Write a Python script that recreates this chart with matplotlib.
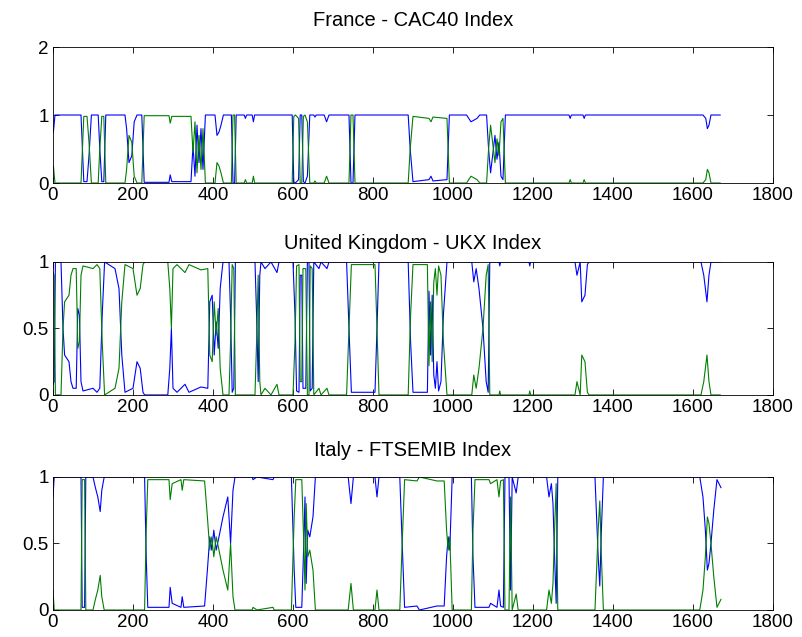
import numpy as np
import matplotlib.pyplot as plt

# regime probabilities (blue = state 1, green = state 2 = 1 - blue)
titles = ['France - CAC40 Index', 'United Kingdom - UKX Index', 'Italy - FTSEMIB Index']

fr_x = [1, 5, 70, 77, 85, 90, 96, 113, 117, 122, 127, 132, 180, 184, 190, 197, 203, 210, 222, 228,
        290, 293, 297, 345, 350, 355, 360, 365, 370, 375, 381, 405, 410, 415, 420, 426, 446, 450,
        454, 458, 478, 481, 484, 498, 501, 504, 598, 602, 606, 614, 618, 622, 626, 630, 636, 642,
        652, 655, 658, 678, 684, 690, 740, 745, 750, 755, 888, 893, 900, 940, 945, 950, 985, 991,
        1034, 1045, 1060, 1067, 1084, 1089, 1094, 1100, 1105, 1110, 1115, 1120, 1125, 1131, 1290,
        1293, 1296, 1325, 1328, 1331, 1625, 1632, 1636, 1640, 1645, 1668]
fr_blue = [0.75, 1, 1, 0.02, 0.02, 0.4, 1, 1, 0.5, 0.02, 0.02, 1, 1, 0.8, 0.3, 0.4, 0.9, 1, 1, 0.01,
           0.01, 0.12, 0.02, 0.02, 0.55, 0.1, 0.85, 0.3, 0.8, 0.2, 1, 1, 0.7, 0.75, 0.85, 1, 1, 0.0,
           0.0, 1, 1, 0.95, 1, 1, 0.9, 1, 1, 0.02, 0.0, 0.05, 1, 1, 0.02, 0.0, 0.1, 1,
           1, 0.97, 1, 1, 0.9, 1, 1, 0.0, 0.0, 1, 1, 0.5, 0.02, 0.05, 0.1, 0.03, 0.05, 1,
           1, 0.9, 0.95, 1, 1, 0.5, 0.15, 0.45, 0.7, 0.35, 0.6, 0.1, 0.05, 1, 1,
           0.95, 1, 1, 0.95, 1, 1, 0.95, 0.8, 0.85, 1, 1]

uk_x = [0, 3, 6, 20, 25, 29, 40, 45, 50, 58, 62, 66, 70, 75, 100, 110, 117, 123, 129, 155, 165,
        172, 180, 200, 210, 218, 225, 229, 287, 292, 296, 300, 310, 330, 340, 370, 387, 392, 398,
        403, 408, 413, 418, 425, 440, 444, 448, 452, 456, 505, 509, 513, 517, 520, 530, 545, 560,
        565, 600, 605, 609, 615, 618, 622, 625, 632, 636, 640, 643, 648, 652, 665, 670, 685, 690,
        734, 740, 746, 805, 810, 815, 888, 894, 900, 936, 940, 944, 948, 952, 956, 960, 964, 970,
        976, 985, 1047, 1052, 1058, 1065, 1075, 1083, 1088, 1092, 1115, 1117, 1119, 1190, 1192,
        1194, 1305, 1310, 1314, 1318, 1322, 1330, 1336, 1340, 1620, 1627, 1635, 1640, 1645, 1668]
uk_blue = [0.08, 0.1, 1, 1, 0.5, 0.3, 0.25, 0.1, 0.05, 0.05, 0.65, 0.6, 0.1, 0.03, 0.05, 0.02, 0.05,
           0.6, 1, 0.95, 0.8, 0.3, 0.02, 0.05, 0.25, 0.2, 0.02, 0.0, 0.0, 0.2, 0.5, 0.05, 0.02, 0.08,
           0.02, 0.06, 0.05, 0.7, 0.75, 0.3, 0.55, 0.35, 0.8, 1, 1, 0.6, 0.02, 0.05, 1, 1, 0.6, 0.1,
           0.9, 1, 0.95, 1, 0.92, 1, 1, 0.6, 0.03, 0.02, 0.9, 0.9, 0.05, 0.05, 1, 1, 0.03, 0.05, 1,
           0.95, 1, 0.95, 1, 1, 0.5, 0.02, 0.02, 0.5, 1, 1, 0.4, 0.02, 0.02, 0.78, 0.3, 0.75, 0.15,
           0.05, 0.25, 0.03, 0.1, 0.6, 1, 1, 0.85, 0.95, 0.8, 0.5, 0.1, 0.02, 1, 1, 0.97, 1, 1, 0.97,
           1, 1, 0.9, 0.95, 1, 0.7, 0.75, 0.98, 1, 1, 0.9, 0.7, 0.9, 1, 1]

it_x = [0, 3, 70, 73, 79, 82, 100, 106, 112, 118, 122, 128, 229, 233, 237, 290, 293, 298, 320, 323,
        327, 379, 386, 392, 397, 402, 408, 415, 425, 437, 444, 450, 455, 498, 500, 510, 550, 553,
        596, 603, 607, 622, 627, 630, 633, 637, 642, 650, 656, 738, 745, 751, 805, 810, 815, 867,
        873, 879, 910, 916, 960, 978, 984, 988, 992, 998, 1046, 1050, 1055, 1090, 1094, 1110, 1115,
        1119, 1126, 1130, 1140, 1144, 1148, 1158, 1163, 1234, 1240, 1246, 1250, 1254, 1258, 1262,
        1355, 1363, 1367, 1371, 1376, 1617, 1625, 1631, 1636, 1640, 1645, 1652, 1660, 1665, 1670]
it_blue = [0.85, 1, 1, 0.02, 0.02, 1, 1, 0.92, 0.85, 0.74, 0.9, 1, 1, 0.4, 0.02, 0.02, 0.17, 0.05,
           0.02, 0.1, 0.02, 0.03, 0.3, 0.55, 0.45, 0.6, 0.45, 0.55, 0.7, 0.85, 0.5, 0.9, 1, 1, 0.98,
           1, 0.98, 1, 1, 0.3, 0.02, 0.02, 0.5, 0.85, 0.2, 0.6, 0.55, 0.7, 1, 1, 0.8, 1, 1, 0.85, 1,
           1, 0.5, 0.02, 0.03, 0.0, 0.03, 0.03, 0.4, 0.55, 0.45, 1, 1, 0.4, 0.02, 0.02, 0.05, 0.02,
           0.15, 0.03, 0.02, 1, 1, 0.15, 1, 0.88, 1, 1, 0.85, 0.95, 0.8, 0.4, 0.05, 1,
           1, 0.4, 0.18, 0.6, 1, 1, 0.85, 0.6, 0.3, 0.35, 0.5, 0.75, 0.98, 0.95, 0.92]

series = [(fr_x, fr_blue), (uk_x, uk_blue), (it_x, it_blue)]
ylims = [(0, 2), (0, 1), (0, 1)]
yticks = [[0, 1, 2], [0, 0.5, 1], [0, 0.5, 1]]
yticklabels = [['0', '1', '2'], ['0', '0.5', '1'], ['0', '0.5', '1']]
xticks = list(range(0, 2000, 200))
title_pads = [15, 9, 15]

plt.rcParams['font.family'] = ['Liberation Sans', 'DejaVu Sans']
fig = plt.figure(figsize=(8.03, 6.37), dpi=100)
boxes = [[0.066, 0.7127, 0.8966, 0.2135],
         [0.066, 0.380, 0.8966, 0.2088],
         [0.066, 0.0424, 0.8966, 0.2088]]

for i in range(3):
    ax = fig.add_axes(boxes[i])
    x = np.array(series[i][0])
    blue = np.array(series[i][1])
    ax.plot(x, blue, color='#0000ff', lw=0.8)
    ax.plot(x, 1 - blue, color='#008000', lw=0.8)
    ax.set_xlim(0, 1800)
    ax.set_ylim(*ylims[i])
    ax.set_xticks(xticks)
    ax.set_yticks(yticks[i])
    ax.set_yticklabels(yticklabels[i])
    ax.tick_params(direction='in', top=True, right=True, labelsize=13.5, length=4, width=0.6,
                   pad=3)
    ax.set_title(titles[i], fontsize=14.5, pad=title_pads[i])
    for s in ax.spines.values():
        s.set_linewidth(0.6)

fig.savefig('out.png', dpi=100)
